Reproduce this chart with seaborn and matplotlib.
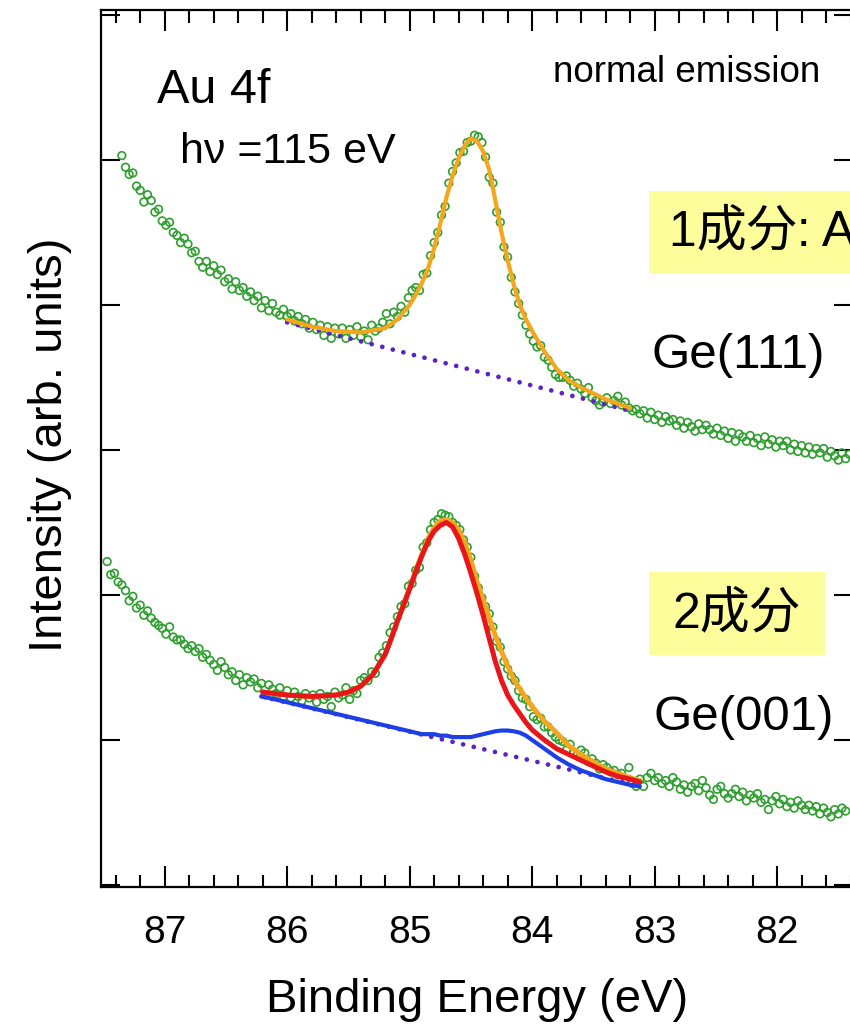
import numpy as np
import pandas as pd
import matplotlib
matplotlib.use("Agg")
import matplotlib.pyplot as plt
from matplotlib.patches import Rectangle
from matplotlib.ticker import MultipleLocator, NullFormatter
import seaborn as sns

sns.set_style("white")
plt.rcParams["font.family"] = ["Liberation Sans", "DejaVu Sans"]
plt.rcParams["text.color"] = "black"
plt.rcParams["xtick.color"] = "black"
plt.rcParams["ytick.color"] = "black"
CJK = ["Liberation Sans", "Noto Sans CJK JP", "DejaVu Sans"]

# ---------------------------------------------------------------------------
# Au 4f spectra (hv = 115 eV, normal emission), offset for display
# Energy grid: start value and step (eV), decreasing binding energy
# ---------------------------------------------------------------------------
ge111_start, ge001_start, energy_step = 87.35, 87.47, 0.03

ge111_intensity = [
    5.03, 4.95, 4.90, 4.91, 4.82, 4.79, 4.71, 4.76, 4.72, 4.64,
    4.66, 4.58, 4.55, 4.57, 4.50, 4.48, 4.43, 4.46, 4.42, 4.36,
    4.37, 4.30, 4.26, 4.30, 4.23, 4.27, 4.21, 4.24, 4.16, 4.18,
    4.11, 4.16, 4.10, 4.12, 4.06, 4.09, 4.03, 4.06, 3.98, 4.03,
    3.96, 4.01, 3.95, 3.93, 3.97, 3.92, 3.94, 3.89, 3.92, 3.87,
    3.90, 3.84, 3.88, 3.83, 3.86, 3.79, 3.85, 3.77, 3.84, 3.80,
    3.84, 3.77, 3.83, 3.79, 3.85, 3.78, 3.82, 3.76, 3.86, 3.82,
    3.84, 3.88, 3.94, 3.87, 3.95, 3.92, 3.99, 3.95, 4.05, 4.10,
    4.12, 4.10, 4.21, 4.22, 4.34, 4.43, 4.50, 4.62, 4.68, 4.84,
    4.92, 4.98, 5.05, 5.06, 5.12, 5.13, 5.17, 5.16, 5.12, 5.02,
    4.88, 4.84, 4.64, 4.57, 4.40, 4.33, 4.19, 4.09, 4.01, 3.93,
    3.86, 3.80, 3.75, 3.71, 3.72, 3.64, 3.62, 3.57, 3.52, 3.50,
    3.50, 3.51, 3.48, 3.44, 3.46, 3.42, 3.39, 3.43, 3.36, 3.34,
    3.31, 3.33, 3.36, 3.32, 3.34, 3.37, 3.31, 3.33, 3.29, 3.27,
    3.28, 3.25, 3.27, 3.22, 3.26, 3.21, 3.24, 3.19, 3.23, 3.20,
    3.21, 3.17, 3.20, 3.15, 3.19, 3.16, 3.13, 3.18, 3.14, 3.17,
    3.14, 3.11, 3.15, 3.10, 3.13, 3.08, 3.12, 3.06, 3.11, 3.09,
    3.06, 3.10, 3.05, 3.08, 3.03, 3.09, 3.04, 3.07, 3.02, 3.06,
    3.03, 3.06, 3.00, 3.04, 2.99, 3.03, 2.98, 3.02, 2.97, 3.01,
    2.98, 3.01, 2.95, 2.99, 2.96, 2.93, 2.98, 2.94, 2.97,
]

ge001_intensity = [
    2.23, 2.14, 2.15, 2.09, 2.07, 2.03, 1.96, 1.99, 1.91, 1.93,
    1.86, 1.89, 1.84, 1.81, 1.79, 1.77, 1.73, 1.78, 1.71, 1.69,
    1.69, 1.66, 1.63, 1.65, 1.61, 1.63, 1.57, 1.59, 1.55, 1.52,
    1.48, 1.54, 1.50, 1.45, 1.47, 1.41, 1.45, 1.38, 1.43, 1.40,
    1.42, 1.36, 1.39, 1.31, 1.38, 1.35, 1.32, 1.36, 1.30, 1.34,
    1.29, 1.33, 1.30, 1.27, 1.32, 1.29, 1.31, 1.26, 1.32, 1.28,
    1.30, 1.23, 1.33, 1.29, 1.31, 1.36, 1.28, 1.34, 1.32, 1.41,
    1.43, 1.41, 1.47, 1.46, 1.57, 1.60, 1.65, 1.74, 1.78, 1.85,
    1.92, 1.94, 2.06, 2.08, 2.17, 2.19, 2.33, 2.36, 2.45, 2.50,
    2.52, 2.56, 2.55, 2.54, 2.50, 2.48, 2.45, 2.38, 2.33, 2.26,
    2.13, 2.05, 1.98, 1.92, 1.87, 1.78, 1.68, 1.64, 1.54, 1.49,
    1.44, 1.41, 1.34, 1.29, 1.28, 1.23, 1.16, 1.14, 1.15, 1.09,
    1.09, 1.05, 1.02, 1.00, 0.99, 0.93, 0.97, 0.91, 0.90, 0.93,
    0.91, 0.85, 0.87, 0.84, 0.80, 0.83, 0.81, 0.78, 0.79, 0.76,
    0.77, 0.73, 0.81, 0.70, 0.68, 0.73, 0.68, 0.74, 0.77, 0.72,
    0.74, 0.70, 0.72, 0.68, 0.74, 0.71, 0.66, 0.69, 0.64, 0.68,
    0.70, 0.65, 0.72, 0.67, 0.62, 0.59, 0.66, 0.68, 0.63, 0.60,
    0.63, 0.66, 0.61, 0.64, 0.58, 0.62, 0.60, 0.63, 0.57, 0.59,
    0.52, 0.58, 0.61, 0.56, 0.59, 0.54, 0.57, 0.53, 0.58, 0.55,
    0.52, 0.55, 0.51, 0.54, 0.49, 0.53, 0.50, 0.47, 0.52, 0.49, 0.53, 0.51,
]

# Fit result for Ge(111): single component + linear background
fit111_energy = [86.0, 85.8, 85.6, 85.4, 85.2, 85.1, 85.0, 84.95, 84.9, 84.85,
                 84.8, 84.75, 84.7, 84.65, 84.6, 84.55, 84.5, 84.45, 84.4, 84.35,
                 84.3, 84.25, 84.2, 84.15, 84.1, 84.05, 84.0, 83.9, 83.8, 83.7,
                 83.6, 83.5, 83.4, 83.3, 83.2]
fit111_total = [3.90, 3.85, 3.82, 3.81, 3.84, 3.90, 4.00, 4.07, 4.15, 4.25,
                4.39, 4.56, 4.74, 4.89, 5.01, 5.10, 5.15, 5.13, 5.06, 4.93,
                4.72, 4.50, 4.31, 4.14, 4.00, 3.90, 3.82, 3.68, 3.56, 3.48,
                3.43, 3.39, 3.35, 3.32, 3.29]
bg111_energy = [86.0, 83.2]
bg111_level = [3.88, 3.27]

# Fit result for Ge(001): two components + linear background
fit001_energy = [86.2, 86.0, 85.8, 85.6, 85.5, 85.4, 85.3, 85.2, 85.15, 85.1,
                 85.05, 85.0, 84.95, 84.9, 84.85, 84.8, 84.75, 84.7, 84.65, 84.6,
                 84.55, 84.5, 84.45, 84.4, 84.35, 84.3, 84.25, 84.2, 84.15, 84.1,
                 84.05, 84.0, 83.9, 83.8, 83.7, 83.6, 83.5, 83.4, 83.3, 83.2, 83.12]
fit001_total = [1.33, 1.31, 1.30, 1.31, 1.33, 1.37, 1.45, 1.59, 1.70, 1.82,
                1.93, 2.05, 2.17, 2.28, 2.39, 2.46, 2.51, 2.52, 2.50, 2.45,
                2.36, 2.24, 2.09, 1.97, 1.84, 1.72, 1.61, 1.51, 1.42, 1.35,
                1.29, 1.23, 1.13, 1.05, 0.96, 0.90, 0.85, 0.80, 0.77, 0.74, 0.72]
fit001_main = [1.33, 1.31, 1.30, 1.31, 1.33, 1.37, 1.45, 1.59, 1.70, 1.82,
               1.93, 2.04, 2.16, 2.27, 2.37, 2.44, 2.48, 2.50, 2.47, 2.39,
               2.28, 2.15, 2.01, 1.86, 1.70, 1.54, 1.41, 1.31, 1.24, 1.18,
               1.12, 1.07, 1.00, 0.94, 0.90, 0.86, 0.82, 0.78, 0.75, 0.73, 0.71]
fit001_second = [1.30, 1.26, 1.22, 1.18, 1.16, 1.14, 1.12, 1.10, 1.09, 1.08,
                 1.07, 1.06, 1.05, 1.04, 1.04, 1.04, 1.03, 1.03, 1.02, 1.02,
                 1.02, 1.02, 1.03, 1.04, 1.05, 1.06, 1.065, 1.065, 1.06, 1.05,
                 1.03, 1.00, 0.94, 0.88, 0.83, 0.79, 0.76, 0.73, 0.71, 0.69, 0.68]
bg001_energy = [86.21, 83.12]
bg001_level = [1.30, 0.68]

x_ticks = [87, 86, 85, 84, 83, 82]

GREEN = "#2e9e2e"
ORANGE = "#f4a61c"
RED = "#e8161b"
BLUE = "#1f3fe6"
PURPLE = "#5a22c8"
BOX = "#fdfd9c"

W, H = 850, 1033
fig = plt.figure(figsize=(W / 100, H / 100), dpi=100)
fig.patch.set_facecolor("white")


def fx(px):
    return px / W


def fy(py):
    return 1 - py / H


ax = fig.add_axes([fx(101), fy(887), fx(853) - fx(101), fy(10) - fy(887)])

spectra = pd.DataFrame({
    "energy": np.concatenate([
        ge111_start - energy_step * np.arange(len(ge111_intensity)),
        ge001_start - energy_step * np.arange(len(ge001_intensity)),
    ]),
    "intensity": np.concatenate([ge111_intensity, ge001_intensity]),
})

sns.scatterplot(data=spectra, x="energy", y="intensity", ax=ax,
                marker="o", s=30, linewidth=1.2, zorder=2, legend=False)
coll = ax.collections[-1]
coll.set_facecolor("none")
coll.set_edgecolor(GREEN)

dot_style = dict(linestyle=(0, (0.01, 2.3)), dash_capstyle="round", lw=3.4,
                 color=PURPLE, zorder=3)
sns.lineplot(x=bg111_energy, y=bg111_level, ax=ax, sort=False, estimator=None, **dot_style)
sns.lineplot(x=bg001_energy, y=bg001_level, ax=ax, sort=False, estimator=None, **dot_style)

sns.lineplot(x=fit111_energy, y=fit111_total, ax=ax, sort=False, estimator=None,
             color=ORANGE, lw=3.0, zorder=4)
sns.lineplot(x=fit001_energy, y=fit001_total, ax=ax, sort=False, estimator=None,
             color=ORANGE, lw=3.6, zorder=4)
sns.lineplot(x=fit001_energy, y=fit001_main, ax=ax, sort=False, estimator=None,
             color=RED, lw=3.6, zorder=5)
sns.lineplot(x=fit001_energy, y=fit001_second, ax=ax, sort=False, estimator=None,
             color=BLUE, lw=3.0, zorder=6)

ax.set_xlim(87.52, 81.38)
ax.set_ylim(-0.014, 6.034)
ax.set_xticks(x_ticks)
ax.set_xticklabels([str(t) for t in x_ticks])
ax.xaxis.set_minor_locator(MultipleLocator(0.2))
ax.set_yticks(range(0, 7))
ax.yaxis.set_major_formatter(NullFormatter())
ax.tick_params(which="both", direction="in", bottom=True, top=True,
               left=True, right=True, color="black", width=1.5)
ax.tick_params(which="major", length=15, labelsize=28, pad=20,
               labelcolor="black")
ax.tick_params(which="minor", length=9)
ax.tick_params(axis="y", which="major", length=14)
for s in ax.spines.values():
    s.set_color("black")
    s.set_linewidth(1.6)
ax.set_xlabel("")
ax.set_ylabel("")

fig.text(fx(477), fy(1000), "Binding Energy (eV)", fontsize=34,
         ha="center", va="center")
fig.text(fx(50), fy(445), "Intensity (arb. units)", fontsize=34,
         ha="center", va="center", rotation=90)

fig.text(fx(157), fy(103), "Au 4f", fontsize=35, ha="left", va="baseline")
fig.text(fx(180), fy(163), "h\u03bd =115 eV", fontsize=31, ha="left", va="baseline")
fig.text(fx(553), fy(82), "normal emission", fontsize=26.5, ha="left", va="baseline")
fig.text(fx(652), fy(368), "Ge(111)", fontsize=35.5, ha="left", va="baseline")
fig.text(fx(654), fy(730), "Ge(001)", fontsize=35.5, ha="left", va="baseline")

fig.add_artist(Rectangle((fx(649), fy(274)), fx(880) - fx(649), fy(191) - fy(274),
                         transform=fig.transFigure, facecolor=BOX, edgecolor="none",
                         zorder=5))
fig.add_artist(Rectangle((fx(649), fy(655)), fx(825) - fx(649), fy(572) - fy(655),
                         transform=fig.transFigure, facecolor=BOX, edgecolor="none",
                         zorder=5))
fig.text(fx(669), fy(232), "1成分: Au", fontsize=36, family=CJK,
         ha="left", va="center", zorder=6)
fig.text(fx(736), fy(614), "2成分", fontsize=36, family=CJK,
         ha="center", va="center", zorder=6)

fig.savefig("out.png", dpi=100, facecolor="white")
